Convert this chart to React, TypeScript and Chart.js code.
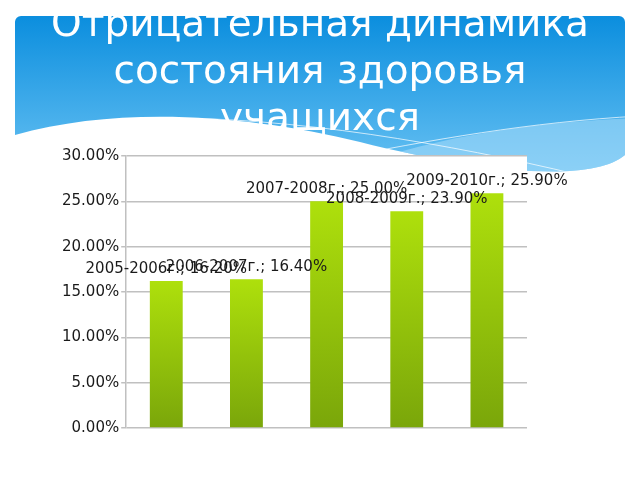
import React, { useEffect, useRef } from 'react';
import { Chart, registerables } from 'chart.js';
import type { Plugin } from 'chart.js';

Chart.register(...registerables);

// chart values
const periods = ['2005-2006г.', '2006-2007г.', '2007-2008г.', '2008-2009г.', '2009-2010г.'];
const shares = [16.2, 16.4, 25.0, 23.9, 25.9];
const titleLines = ['Отрицательная динамика', 'состояния здоровья', 'учащихся'];
const yTicks = [0, 5, 10, 15, 20, 25, 30];

const FONT = 'DejaVu Sans';

// slide background: blue header with waves, title, white plot area
const slideBackground: Plugin<'bar'> = {
  id: 'slideBackground',
  beforeDraw(chart) {
    const { ctx, chartArea } = chart;
    ctx.save();
    ctx.fillStyle = '#ffffff';
    ctx.fillRect(0, 0, chart.width, chart.height);

    const r = 6;
    ctx.beginPath();
    ctx.moveTo(15, 16 + r);
    ctx.arcTo(15, 16, 15 + r, 16, r);
    ctx.lineTo(625 - r, 16);
    ctx.arcTo(625, 16, 625, 16 + r, r);
    ctx.lineTo(625, 155);
    ctx.bezierCurveTo(590, 185, 470, 170, 360, 142);
    ctx.bezierCurveTo(250, 115, 120, 105, 15, 135);
    ctx.closePath();
    const g = ctx.createLinearGradient(0, 16, 0, 175);
    g.addColorStop(0, '#0b8ede');
    g.addColorStop(1, '#69c2f3');
    ctx.fillStyle = g;
    ctx.fill();
    ctx.clip();

    // lighter wave on the right
    ctx.beginPath();
    ctx.moveTo(330, 175);
    ctx.bezierCurveTo(420, 140, 520, 122, 640, 118);
    ctx.lineTo(640, 200);
    ctx.lineTo(330, 200);
    ctx.closePath();
    ctx.fillStyle = 'rgba(170, 220, 250, 0.55)';
    ctx.fill();

    ctx.strokeStyle = 'rgba(255, 255, 255, 0.7)';
    ctx.lineWidth = 1;
    ctx.beginPath();
    ctx.moveTo(180, 118);
    ctx.bezierCurveTo(320, 120, 480, 150, 600, 180);
    ctx.stroke();
    ctx.beginPath();
    ctx.moveTo(330, 160);
    ctx.bezierCurveTo(430, 140, 530, 122, 640, 116);
    ctx.stroke();
    ctx.restore();

    // slide title
    ctx.save();
    ctx.font = `39px "${FONT}"`;
    ctx.fillStyle = '#ffffff';
    ctx.textAlign = 'center';
    ctx.textBaseline = 'alphabetic';
    titleLines.forEach((line, i) => ctx.fillText(line, 320, 36 + i * 47));
    ctx.restore();

    if (chartArea) {
      ctx.save();
      ctx.fillStyle = '#ffffff';
      ctx.fillRect(chartArea.left, chartArea.top, chartArea.right - chartArea.left, chartArea.bottom - chartArea.top);
      ctx.restore();
    }
  },
};

// "period; value%" labels above the bars
const barLabels: Plugin<'bar'> = {
  id: 'barLabels',
  afterDatasetsDraw(chart) {
    const { ctx } = chart;
    const meta = chart.getDatasetMeta(0);
    ctx.save();
    ctx.font = `15px "${FONT}"`;
    ctx.fillStyle = '#1a1a1a';
    ctx.textAlign = 'center';
    ctx.textBaseline = 'middle';
    meta.data.forEach((bar, i) => {
      ctx.fillText(`${periods[i]}; ${shares[i].toFixed(2)}%`, bar.x, bar.y - 12);
    });
    ctx.restore();
  },
};

export default function App() {
  const canvasRef = useRef<HTMLCanvasElement>(null);

  useEffect(() => {
    if (!canvasRef.current) return;
    document.body.style.margin = '0';

    const chart = new Chart(canvasRef.current, {
      type: 'bar',
      data: {
        labels: periods,
        datasets: [
          {
            data: shares,
            backgroundColor: (c) => {
              const { chart: ch, dataIndex } = c;
              const area = ch.chartArea;
              const yScale = ch.scales.y;
              if (!area || !yScale) return '#98c80a';
              const top = yScale.getPixelForValue(shares[dataIndex]);
              const grad = ch.ctx.createLinearGradient(0, top, 0, area.bottom);
              grad.addColorStop(0, '#aee00c');
              grad.addColorStop(1, '#7aa60a');
              return grad;
            },
            borderWidth: 0,
            barPercentage: 1,
            categoryPercentage: 0.41,
          },
        ],
      },
      options: {
        responsive: true,
        maintainAspectRatio: false,
        animation: false,
        layout: { padding: { left: 60, right: 113, top: 156, bottom: 52 } },
        scales: {
          x: { display: false },
          y: {
            min: 0,
            max: 30,
            afterBuildTicks: (scale) => {
              scale.ticks = yTicks.map((v) => ({ value: v }));
            },
            ticks: {
              color: '#1a1a1a',
              padding: 2,
              font: { family: FONT, size: 15 },
              callback: (v) => `${Number(v).toFixed(2)}%`,
            },
            grid: { color: '#c0c0c0', lineWidth: 1.5, tickLength: 5 },
            border: { color: '#c0c0c0', width: 1.5 },
          },
        },
        plugins: {
          legend: { display: false },
          tooltip: { enabled: false },
          title: { display: false },
        },
      },
      plugins: [slideBackground, barLabels],
    });

    return () => chart.destroy();
  }, []);

  return (
    <div style={{ position: 'fixed', left: 0, top: 0, width: 640, height: 480 }}>
      <canvas ref={canvasRef} role="img" aria-label="Отрицательная динамика состояния здоровья учащихся" />
    </div>
  );
}
